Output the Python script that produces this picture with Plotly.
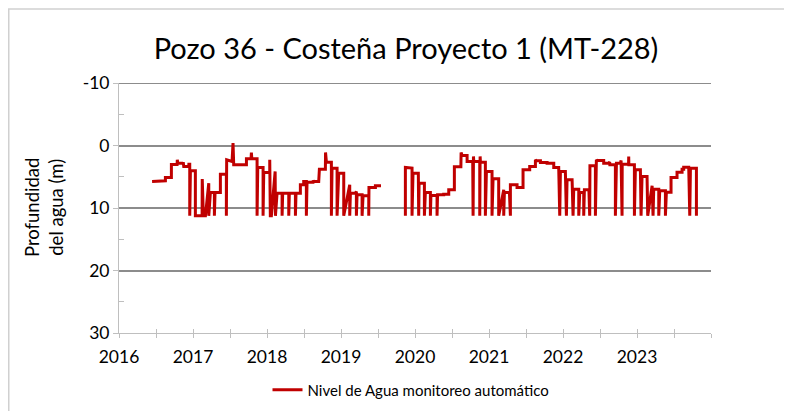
import plotly.graph_objects as go

# ---------------- data (decimal years, depth in m) ----------------
years_a = [2016.447, 2016.537, 2016.537, 2016.627, 2016.627, 2016.708, 2016.708, 2016.785, 2016.788, 2016.794,
           2016.866, 2016.868, 2016.875, 2016.942, 2016.944, 2016.956, 2016.956, 2016.965, 2017.032, 2017.032,
           2017.123, 2017.125, 2017.140, 2017.168, 2017.213, 2017.213, 2017.235, 2017.289, 2017.289, 2017.298,
           2017.370, 2017.370, 2017.451, 2017.451, 2017.455, 2017.528, 2017.541, 2017.550, 2017.722, 2017.722,
           2017.785, 2017.789, 2017.795, 2017.866, 2017.866, 2017.875, 2017.947, 2017.947, 2017.956, 2018.037,
           2018.037, 2018.045, 2018.059, 2018.110, 2018.114, 2018.136, 2018.204, 2018.204, 2018.212, 2018.294,
           2018.294, 2018.302, 2018.384, 2018.384, 2018.392, 2018.451, 2018.451, 2018.496, 2018.496, 2018.532,
           2018.532, 2018.541, 2018.622, 2018.624, 2018.631, 2018.699, 2018.708, 2018.789, 2018.791, 2018.803,
           2018.870, 2018.870, 2018.879, 2018.947, 2018.947, 2018.969, 2019.037, 2019.037, 2019.118, 2019.118,
           2019.127, 2019.194, 2019.208, 2019.208, 2019.217, 2019.285, 2019.285, 2019.298, 2019.375, 2019.375,
           2019.378, 2019.465, 2019.465, 2019.541]
depth_a = [5.75, 5.75, 5.65, 5.65, 5.11, 5.11, 3.03, 3.03, 2.29, 2.82,
           2.82, 2.66, 3.35, 3.35, 2.98, 2.98, 11.25, 4.05, 4.05, 11.25,
           11.25, 5.38, 11.25, 11.25, 6.02, 11.25, 7.51, 7.51, 11.25, 7.51,
           7.51, 4.58, 4.58, 11.25, 2.29, 2.55, -0.38, 3.09, 3.09, 2.13,
           2.13, 1.12, 2.13, 2.13, 11.25, 3.51, 3.51, 11.25, 4.31, 4.31,
           2.29, 11.25, 11.25, 4.15, 11.25, 7.62, 7.62, 11.25, 7.62, 7.62,
           11.25, 7.62, 7.62, 11.25, 7.62, 7.62, 6.29, 6.29, 5.75, 5.75,
           11.25, 5.86, 5.86, 5.59, 5.75, 5.75, 3.78, 3.78, 1.12, 2.66,
           2.66, 11.25, 3.62, 3.62, 11.25, 4.42, 4.42, 11.25, 6.29, 11.25,
           7.62, 7.62, 7.35, 11.25, 7.89, 7.89, 11.25, 8.05, 8.05, 11.25,
           6.71, 6.71, 6.45, 6.45]

years_b = [2019.870, 2019.870, 2019.960, 2019.960, 2019.973, 2020.045, 2020.050, 2020.055, 2020.127, 2020.127,
           2020.140, 2020.208, 2020.208, 2020.215, 2020.298, 2020.298, 2020.305, 2020.388, 2020.388, 2020.456,
           2020.456, 2020.532, 2020.532, 2020.620, 2020.623, 2020.636, 2020.704, 2020.704, 2020.780, 2020.785,
           2020.790, 2020.794, 2020.875, 2020.875, 2020.880, 2020.884, 2020.951, 2020.951, 2020.965, 2021.041,
           2021.041, 2021.055, 2021.131, 2021.131, 2021.199, 2021.199, 2021.208, 2021.276, 2021.289, 2021.289,
           2021.379, 2021.379, 2021.460, 2021.460, 2021.550, 2021.550, 2021.627, 2021.627, 2021.641, 2021.695,
           2021.695, 2021.785, 2021.785, 2021.875, 2021.875, 2021.942, 2021.956, 2021.965, 2022.032, 2022.046,
           2022.055, 2022.123, 2022.136, 2022.145, 2022.213, 2022.213, 2022.226, 2022.280, 2022.280, 2022.289,
           2022.350, 2022.361, 2022.364, 2022.438, 2022.438, 2022.451, 2022.460, 2022.550, 2022.550, 2022.618,
           2022.631, 2022.633, 2022.708, 2022.708, 2022.722, 2022.776, 2022.785, 2022.798, 2022.800, 2022.886,
           2022.888, 2022.890, 2022.965, 2022.965, 2022.978, 2023.046, 2023.055, 2023.068, 2023.136, 2023.145,
           2023.204, 2023.217, 2023.226, 2023.294, 2023.294, 2023.307, 2023.384, 2023.384, 2023.397, 2023.460,
           2023.460, 2023.541, 2023.541, 2023.609, 2023.609, 2023.631, 2023.631, 2023.699, 2023.713, 2023.722,
           2023.803, 2023.803]
depth_b = [11.25, 3.51, 3.62, 11.25, 4.42, 4.42, 11.25, 6.02, 6.02, 11.25,
           7.51, 7.51, 11.25, 7.99, 7.99, 11.25, 7.89, 7.89, 7.78, 7.78,
           7.09, 7.09, 3.40, 3.40, 1.12, 1.60, 1.60, 2.55, 2.55, 11.25,
           1.75, 2.55, 2.55, 11.25, 1.75, 2.66, 2.66, 11.25, 4.15, 4.15,
           11.25, 5.30, 5.30, 11.25, 7.09, 11.25, 7.51, 7.51, 11.25, 6.29,
           6.29, 6.71, 6.71, 3.89, 3.89, 3.35, 3.35, 2.29, 2.45, 2.45,
           2.72, 2.72, 2.82, 2.82, 3.51, 3.51, 11.25, 4.15, 4.15, 11.25,
           5.49, 5.49, 11.25, 6.98, 6.98, 11.25, 7.51, 7.51, 11.25, 7.09,
           7.09, 11.25, 3.25, 3.25, 11.25, 2.29, 2.39, 2.39, 2.82, 2.82,
           2.66, 3.09, 3.09, 11.25, 2.82, 2.82, 2.39, 11.25, 2.98, 2.98,
           1.75, 3.09, 3.09, 11.25, 3.89, 3.89, 11.25, 4.95, 4.95, 11.25,
           6.45, 11.25, 6.98, 6.98, 11.25, 7.25, 7.25, 11.25, 7.46, 7.46,
           5.11, 5.11, 4.26, 4.26, 3.78, 3.78, 3.46, 3.46, 11.25, 3.62,
           3.62, 11.25]

tick_years = [2016, 2016.5, 2017, 2017.5, 2018, 2018.5, 2019, 2019.5, 2020, 2020.5,
              2021, 2021.5, 2022, 2022.5, 2023, 2023.5, 2024]
tick_labels = ["2016", "", "2017", "", "2018", "", "2019", "", "2020", "",
               "2021", "", "2022", "", "2023", "", ""]
y_ticks = [-10, 0, 10, 20, 30]
y_tick_labels = ["-10", "0", "10", "20", "30"]
y_minor_ticks = [-5, 5, 15, 25]
y_range = [30, -10]
x_range = [2016, 2024]

title_text = "Pozo 36 - Costeña Proyecto 1 (MT-228)"
series_name = "Nivel de Agua monitoreo automático"
y_title = "Profundidad<br>del agua (m)"

FONT = "Lato"
RED = "#c00000"
GRID = "#8c8c8c"
AXIS = "#bfbfbf"

# The page body has an 8px default margin: the figure starts at screen (8, 8).
OFF = 8
FIG_W, FIG_H = 792 - OFF, 411 - OFF
# plot-area geometry in screen pixels
L, R, T, B = 119, 711, 83, 333
W, H = R - L, B - T

x_all = years_a + [None] + years_b
y_all = depth_a + [None] + depth_b

fig = go.Figure()
fig.add_trace(go.Scatter(
    x=x_all, y=y_all, mode="lines", name=series_name,
    line=dict(color=RED, width=3), connectgaps=False,
))
# empty helper trace so the overlay axis (inside half of the cross ticks) is drawn
fig.add_trace(go.Scatter(x=[], y=[], xaxis="x2", yaxis="y", showlegend=False, hoverinfo="skip"))

fig.update_layout(
    width=FIG_W, height=FIG_H,
    margin=dict(l=L - OFF, r=FIG_W - (R - OFF), t=T - OFF, b=FIG_H - (B - OFF), autoexpand=False),
    paper_bgcolor="white", plot_bgcolor="white",
    font=dict(family=FONT, color="#000000"),
    title=dict(text=title_text, x=(406 - L) / W, xref="paper", xanchor="center",
               y=1 - 41 / FIG_H, yanchor="middle",
               font=dict(family=FONT, size=29, color="#000000")),
    showlegend=True,
    legend=dict(orientation="h", x=(411 - L) / W, xanchor="center",
                y=(B - 390) / H, yanchor="middle",
                font=dict(family=FONT, size=15, color="#000000"),
                bgcolor="rgba(0,0,0,0)"),
    xaxis=dict(range=x_range, tickmode="array", tickvals=tick_years, ticktext=tick_labels,
               automargin=False,
               showgrid=False, zeroline=False, showline=True, linecolor=AXIS, linewidth=1,
               ticks="outside", ticklen=4, tickcolor=AXIS, tickwidth=1,
               tickfont=dict(family=FONT, size=17.5, color="#000000"), ticklabelstandoff=4),
    xaxis2=dict(range=x_range, overlaying="x", matches="x", side="bottom", anchor="y",
                tickmode="array", tickvals=tick_years, showticklabels=False,
                automargin=False, showgrid=False, zeroline=False, showline=False,
                ticks="inside", ticklen=4, tickcolor=AXIS, tickwidth=1),
    yaxis=dict(range=y_range, tickmode="array", tickvals=y_ticks, ticktext=y_tick_labels,
               automargin=False,
               showgrid=True, gridcolor=GRID, gridwidth=2, zeroline=False,
               showline=True, linecolor=AXIS, linewidth=1,
               ticks="outside", ticklen=5, tickcolor=AXIS, tickwidth=1,
               minor=dict(tickvals=y_minor_ticks, ticks="inside", ticklen=5, tickcolor=AXIS, showgrid=False),
               tickfont=dict(family=FONT, size=17.5, color="#000000")),
    annotations=[dict(text=y_title, xref="paper", yref="paper", x=(44 - L) / W, y=0.5,
                      xanchor="center", yanchor="middle", textangle=-90, showarrow=False,
                      font=dict(family=FONT, size=18.5, color="#000000"))],
    shapes=[
        # top gridline (at the top edge of the range, which plotly does not draw itself)
        dict(type="line", xref="paper", yref="y", x0=0, x1=1, y0=y_ticks[0], y1=y_ticks[0],
             line=dict(color=GRID, width=2), layer="below"),
        # chart frame (top and left edges)
        dict(type="line", xref="paper", yref="paper", x0=(OFF - L) / W, x1=(792 - L) / W,
             y0=(B - (OFF + 1)) / H, y1=(B - (OFF + 1)) / H, line=dict(color="#d0d0d0", width=1.5)),
        dict(type="line", xref="paper", yref="paper", x0=(OFF + 0.75 - L) / W, x1=(OFF + 0.75 - L) / W,
             y0=(B - (OFF + 1)) / H, y1=(B - 411) / H, line=dict(color="#d0d0d0", width=1.5)),
    ],
)

fig.write_html("out.html")
